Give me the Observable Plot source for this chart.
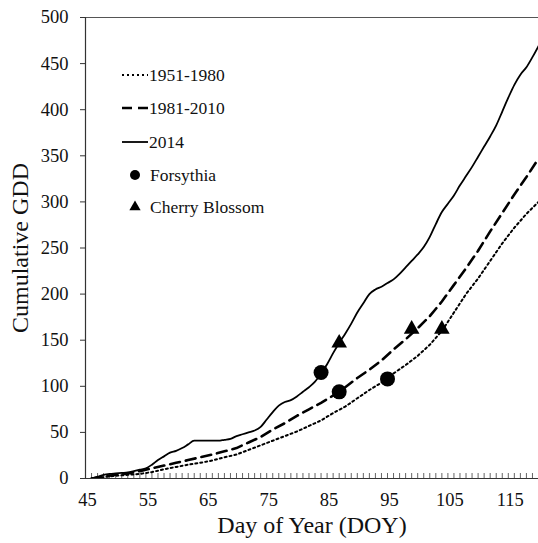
<!DOCTYPE html>
<html><head><meta charset="utf-8">
<script src="https://cdn.jsdelivr.net/npm/d3@7"></script>
<script src="https://cdn.jsdelivr.net/npm/@observablehq/plot@0.6"></script>
<style>
body{margin:0;background:#fff;}
#chart svg, #chart svg text{font-family:"Liberation Serif","DejaVu Serif",serif !important;}
</style>
</head><body><div id="chart"></div>
<script>
// 2014 cumulative GDD (daily)
const doy2014 = [46,47,48,49,50,51,52,53,54,55,56,57,58,59,60,61,62,63,64,65,66,67,68,69,70,71,72,73,74,75,76,77,78,79,80,81,82,83,84,85,86,87,88,89,90,91,92,93,94,95,96,97,98,99,100,101,102,103,104,105,106,107,108,109,110,111,112,113,114,115,116,117,118,119,120];
const gdd2014 = [0,2,4,5,5.5,6,6.5,8,9.5,11,15,20,24,28,30,33,37,41,41,41,41,41,42,43,46,48,50,52,56,64,72,79,83,85,89,94,99,105,114,124,136,147,157,168,180,190,200,205,208,212,216,222,229,236,243,251,262,276,289,298,307,318,328,338,349,360,371,383,398,413,427,438,446,457,469];
// normals
const doyNormal = [46,48,50,52,54,56,58,60,62,64,66,68,70,72,74,76,78,80,82,84,86,88,90,92,94,96,98,100,102,104,106,108,110,112,114,116,118,120];
const gdd1951 = [0,1.5,3,4,5,7,10,12.5,15,17,19.5,23,26,31,36,41,46,51,57,63,71,78,87,96,104,114,123,133,145,160,180,200,217,236,255,272,287,300];
const gdd1981 = [0,2,4,5.5,8,11,14,17,20,23,26,29.5,33,39,45,53,60,68,75,82,90,99,109,118,128,140,151,163,176,192,210,228,247,268,288,308,327,347];
// phenology events
const forsythiaDoy = [84,87,95];
const forsythiaGdd = [115,94,108];
const cherryDoy = [87,99,104];
const cherryGdd = [147,162,162];
// axes
const xLabelTicks = [45,55,65,75,85,95,105,115];
const xMinorTicks = [46,47,48,49,50,51,52,53,54,55,56,57,58,59,60,61,62,63,64,65,66,67,68,69,70,71,72,73,74,75,76,77,78,79,80,81,82,83,84,85,86,87,88,89,90,91,92,93,94,95,96,97,98,99,100,101,102,103,104,105,106,107,108,109,110,111,112,113,114,115,116,117,118,119,120];
const yTicks = [0,50,100,150,200,250,300,350,400,450,500];
const legendLabels = ["1951-1980","1981-2010","2014","Forsythia","Cherry Blossom"];

const s2014 = doy2014.map((d,i)=>({d, v:gdd2014[i]}));
const s1951 = doyNormal.map((d,i)=>({d, v:gdd1951[i]}));
const s1981 = doyNormal.map((d,i)=>({d, v:gdd1981[i]}));
const fors = forsythiaDoy.map((d,i)=>({d, v:forsythiaGdd[i]}));
const cher = cherryDoy.map((d,i)=>({d, v:cherryGdd[i]}));

const DOT = "2,3";
const DASH = "10,6";

const chart = Plot.plot({
  width: 538, height: 543,
  marginLeft: 85, marginRight: 0, marginTop: 17, marginBottom: 65,
  style: {fontFamily: "Liberation Serif", background: "#fff", overflow: "hidden"},
  x: {domain: [45,120]},
  y: {domain: [0,500]},
  marks: [
    Plot.ruleY([500], {stroke: "#555", strokeWidth: 1.2}),
    Plot.axisX({ticks: xMinorTicks, tickSize: -5, text: null, stroke: "#666", strokeWidth: 1, label: null}),
    Plot.axisX({ticks: xLabelTicks, tickSize: 0, tickPadding: 14, fontSize: 18.5, fill: "#111", dx: 2,
      label: "Day of Year (DOY)", labelAnchor: "center", labelArrow: "none", labelOffset: 54}),
    Plot.axisY({ticks: yTicks, tickSize: 5, tickPadding: 12, fontSize: 18.5, fill: "#111", stroke: "#333",
      label: "Cumulative GDD", labelAnchor: "center", labelArrow: "none", labelOffset: 75}),
    Plot.line(s1951, {x:"d", y:"v", stroke:"#000", strokeWidth: 2, strokeDasharray: DOT, clip: true}),
    Plot.line(s1981, {x:"d", y:"v", stroke:"#000", strokeWidth: 2.6, strokeDasharray: DASH, clip: true}),
    Plot.line(s2014, {x:"d", y:"v", stroke:"#000", strokeWidth: 1.8, curve: "monotone-x", clip: true}),
    Plot.ruleX([45], {stroke: "#333", strokeWidth: 1.2}),
    Plot.ruleY([0], {stroke: "#333", strokeWidth: 1.2}),
    Plot.dot(fors, {x:"d", y:"v", r: 7.5, fill: "#000", stroke: "none"}),
    Plot.dot(cher, {x:"d", y:"v", r: 5.8, symbol: "triangle", fill: "#000", stroke: "none"})
  ]
});

const svg = d3.select(chart);
svg.selectAll("[aria-label='x-axis label'] text").attr("font-size", 24).attr("fill", "#111");
svg.selectAll("[aria-label='y-axis label'] text").attr("font-size", 24).attr("fill", "#111");

// legend (inside the plot, top-left)
const lg = svg.append("g").attr("font-family", "Liberation Serif").attr("font-size", 17.5)
  .attr("fill", "#111").attr("text-anchor", "start");
const rowsY = [75,108,142,175,207];
const dashes = [DOT, DASH, null];
const widths = [2, 2.6, 1.8];
for (let i=0;i<3;i++){
  const l = lg.append("line").attr("x1",122).attr("x2",148).attr("y1",rowsY[i]).attr("y2",rowsY[i])
    .attr("stroke","#000").attr("stroke-width",widths[i]);
  if (dashes[i]) l.attr("stroke-dasharray", dashes[i]);
  lg.append("text").attr("x",149).attr("y",rowsY[i]).attr("dy","0.35em").text(legendLabels[i]);
}
lg.append("circle").attr("cx",135).attr("cy",rowsY[3]).attr("r",5).attr("fill","#000");
lg.append("path").attr("d", d3.symbol(d3.symbolTriangle, 55)()).attr("transform",`translate(135,${rowsY[4]})`).attr("fill","#000");
lg.append("text").attr("x",150).attr("y",rowsY[3]).attr("dy","0.35em").text(legendLabels[3]);
lg.append("text").attr("x",150).attr("y",rowsY[4]).attr("dy","0.35em").text(legendLabels[4]);

document.getElementById("chart").appendChild(chart);
</script>
</body></html>
